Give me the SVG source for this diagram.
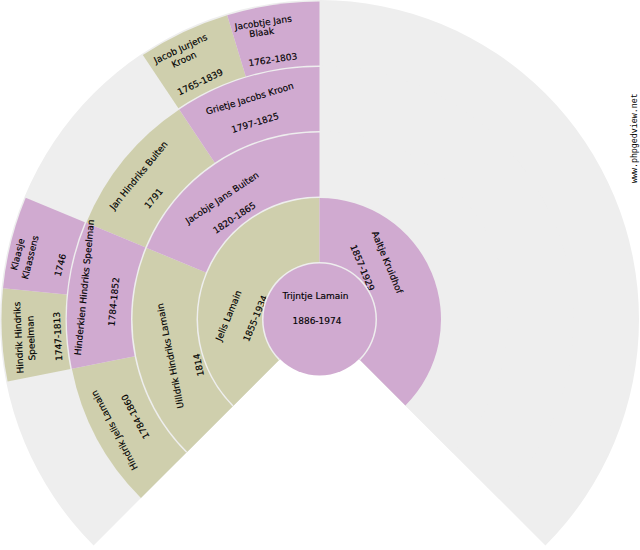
<svg xmlns="http://www.w3.org/2000/svg" width="640" height="550" viewBox="0 0 640 550">
<style>
.bg{fill:#EEEEEE}
.m{fill:#CFCFAD}
.f{fill:#D0AAD0}
.t{font-family:"DejaVu Sans",sans-serif;font-size:9px;fill:#000;text-anchor:middle;stroke:#000;stroke-width:0.15}
.w{font-family:"Liberation Mono",monospace;font-size:8.3px;fill:#000}
</style>
<rect width="640" height="550" fill="#FFFFFF"/>
<path id="bg-gen4" class="bg" d="M319.5,319.5 L93.58,545.42 A319.5,319.5 0 1 1 545.42,545.42 Z"/>
<g id="hindrik-hindriks-speelman">
<path class="m" d="M319.5,319.5 L7.61,381.54 A318,318 0 0 1 3.03,288.33 Z"/>
<text class="t" transform="translate(21.7 337.4) rotate(-92.8125)">Hindrik Hindriks</text>
<text class="t" transform="translate(34.2 337.9) rotate(-92.8125)">Speelman</text>
<text class="t" transform="translate(61 336.3) rotate(-92.8125)">1747-1813</text>
</g>
<g id="klaasje-klaassens">
<path class="f" d="M319.5,319.5 L3.03,288.33 A318,318 0 0 1 25.71,197.81 Z"/>
<text class="t" transform="translate(20.7 255.1) rotate(-75.9375)">Klaasje</text>
<text class="t" transform="translate(33.2 258.1) rotate(-75.9375)">Klaassens</text>
<text class="t" transform="translate(63.4 265.9) rotate(-75.9375)">1746</text>
</g>
<g id="jacob-jurjens-kroon">
<path class="m" d="M319.5,319.5 L142.83,55.09 A318,318 0 0 1 227.19,15.19 Z"/>
<text class="t" transform="translate(181.9 51.5) rotate(-25.3125)">Jacob Jurjens</text>
<text class="t" transform="translate(185.3 62.3) rotate(-25.3125)">Kroon</text>
<text class="t" transform="translate(201.5 84.9) rotate(-25.3125)">1765-1839</text>
</g>
<g id="jacobtje-jans-blaak">
<path class="f" d="M319.5,319.5 L227.19,15.19 A318,318 0 0 1 319.5,1.5 Z"/>
<text class="t" transform="translate(263.7 25.8) rotate(-8.4375)">Jacobtje Jans</text>
<text class="t" transform="translate(262.1 35.5) rotate(-8.4375)">Blaak</text>
<text class="t" transform="translate(273.3 62.7) rotate(-8.4375)">1762-1803</text>
</g>
<path id="bg-gen3" class="bg" d="M319.5,319.5 L139.89,499.11 A254,254 0 1 1 499.11,499.11 Z"/>
<g id="hindrik-jelis-lamain">
<path class="m" d="M319.5,319.5 L140.96,498.04 A252.5,252.5 0 0 1 71.85,368.76 Z"/>
<text class="t" transform="translate(117.2 428.8) rotate(-118.125)">Hindrik Jelis Lamain</text>
<text class="t" transform="translate(138.1 415) rotate(-118.125)">1784-1860</text>
</g>
<g id="jan-hindriks-buiten">
<path class="m" d="M319.5,319.5 L86.22,222.87 A252.5,252.5 0 0 1 179.22,109.55 Z"/>
<text class="t" transform="translate(141.1 177.4) rotate(-50.625)">Jan Hindriks Buiten</text>
<text class="t" transform="translate(156 200.5) rotate(-50.625)">1791</text>
</g>
<g id="grietje-jacobs-kroon">
<path class="f" d="M319.5,319.5 L179.22,109.55 A252.5,252.5 0 0 1 319.5,67 Z"/>
<text class="t" transform="translate(250.7 101.6) rotate(-16.875)">Grietje Jacobs Kroon</text>
<text class="t" transform="translate(256 125.8) rotate(-16.875)">1797-1825</text>
</g>
<g id="hinderkien-hindriks-speelman">
<path class="f" d="M319.5,319.5 L71.85,368.76 A252.5,252.5 0 0 1 86.22,222.87 Z"/>
<text class="t" transform="translate(87.5 287.7) rotate(-84.375)">Hinderkien Hindriks Speelman</text>
<text class="t" transform="translate(116.8 302) rotate(-84.375)">1784-1852</text>
</g>
<path id="bg-gen2" class="bg" d="M319.5,319.5 L186.21,452.79 A188.5,188.5 0 1 1 452.79,452.79 Z"/>
<g id="uilldrik-hindriks-lamain">
<path class="m" d="M319.5,319.5 L187.27,451.73 A187,187 0 0 1 146.73,247.94 Z"/>
<text class="t" transform="translate(173.3 355.3) rotate(-101.25)">Uilldrik Hindriks Lamain</text>
<text class="t" transform="translate(201.7 364.3) rotate(-101.25)">1814</text>
</g>
<g id="jacobje-jans-buiten">
<path class="f" d="M319.5,319.5 L146.73,247.94 A187,187 0 0 1 319.5,132.5 Z"/>
<text class="t" transform="translate(223.9 200.4) rotate(-33.75)">Jacobje Jans Buiten</text>
<text class="t" transform="translate(236.1 220.4) rotate(-33.75)">1820-1865</text>
</g>
<path id="bg-gen1" class="bg" d="M319.5,319.5 L232.53,406.47 A123,123 0 1 1 406.47,406.47 Z"/>
<g id="jelis-lamain">
<path class="m" d="M319.5,319.5 L233.59,405.41 A121.5,121.5 0 0 1 319.5,198 Z"/>
<text class="t" transform="translate(231.5 316.8) rotate(-67.5)">Jelis Lamain</text>
<text class="t" transform="translate(258.2 319.6) rotate(-67.5)">1855-1934</text>
</g>
<g id="aaltje-kruidhof">
<path class="f" d="M319.5,319.5 L319.5,198 A121.5,121.5 0 0 1 405.41,405.41 Z"/>
<text class="t" transform="translate(384.4 263.5) rotate(67.5)">Aaltje Kruidhof</text>
<text class="t" transform="translate(359.5 268.9) rotate(67.5)">1857-1929</text>
</g>
<path id="bg-gen0" class="bg" d="M319.5,319.5 L278.84,360.16 A57.5,57.5 0 1 1 360.16,360.16 Z"/>
<g id="trijntje-lamain">
<circle class="f" cx="319.5" cy="319.5" r="56"/>
<text class="t" x="315.5" y="299">Trijntje Lamain</text>
<text class="t" x="317" y="323.5">1886-1974</text>
</g>
<text class="w" transform="translate(636.5 183) rotate(-90)">www.phpgedview.net</text>
</svg>
